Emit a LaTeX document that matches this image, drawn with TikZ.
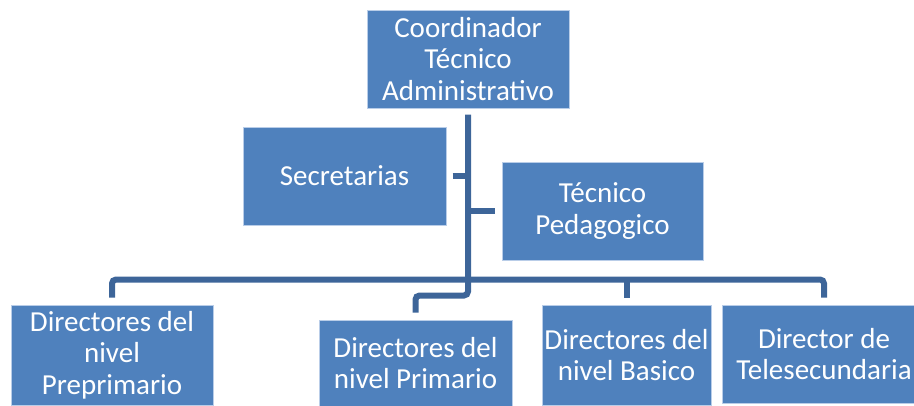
\documentclass[tikz,border=0pt]{standalone}
\usepackage{fontspec}
\setmainfont{Carlito}
\usepackage{tikz}

\definecolor{boxblue}{RGB}{79,129,189}
\definecolor{boxedge}{RGB}{185,205,232}
\definecolor{lineblue}{RGB}{61,101,153}

\tikzset{
	orgbox/.style={fill=boxblue, draw=boxedge, line width=1pt, text=white,
		align=center, inner sep=1pt, font=\fontsize{29}{31.5}\selectfont},
	conn/.style={draw=lineblue, line width=6pt, rounded corners=4pt}
}

\begin{document}
\begin{tikzpicture}[x=1pt,y=-1pt]
		\useasboundingbox (0,0) rectangle (914,405);
		% top and middle
		\node[orgbox, minimum width=202pt, minimum height=98pt] (coord) at (468,59) {Coordinador\\T\'ecnico\\Administrativo};
		\node[orgbox, minimum width=203pt, minimum height=98pt] (secr) at (344.5,176) {Secretarias};
		\node[orgbox, minimum width=201pt, minimum height=98pt] (tecped) at (602.5,211) {T\'ecnico\\Pedagogico};
		
		% bottom row
		\node[orgbox, minimum width=202pt, minimum height=100pt] (prepri) at (112,355) {Directores del\\nivel\\Preprimario};
		\node[orgbox, minimum width=193pt, minimum height=86pt] (prim) at (415.5,363) {Directores del\\nivel Primario};
		\node[orgbox, minimum width=169pt, minimum height=100pt] (basico) at (626.5,355) {Directores del\\nivel Basico};
		\node[orgbox, minimum width=204pt, minimum height=98pt] (telesec) at (824,354) {Director de\\Telesecundaria};
		
		% connectors
		\draw[conn] ([yshift=-6pt]coord.south) -- ++(0,181) -| ([yshift=7pt]prim.north);
		\draw[conn] ([xshift=6pt]secr.east) -- (secr.east -| coord.south);
		\draw[conn] ([xshift=-7pt]tecped.west) -- (tecped.west -| coord.south);
		\draw[conn] ([yshift=7pt]prepri.north) -- ++(0,-18) -| ([yshift=7pt]telesec.north);
		\draw[conn] ([yshift=7pt]basico.north) -- ++(0,-18);
\end{tikzpicture}
\end{document}
